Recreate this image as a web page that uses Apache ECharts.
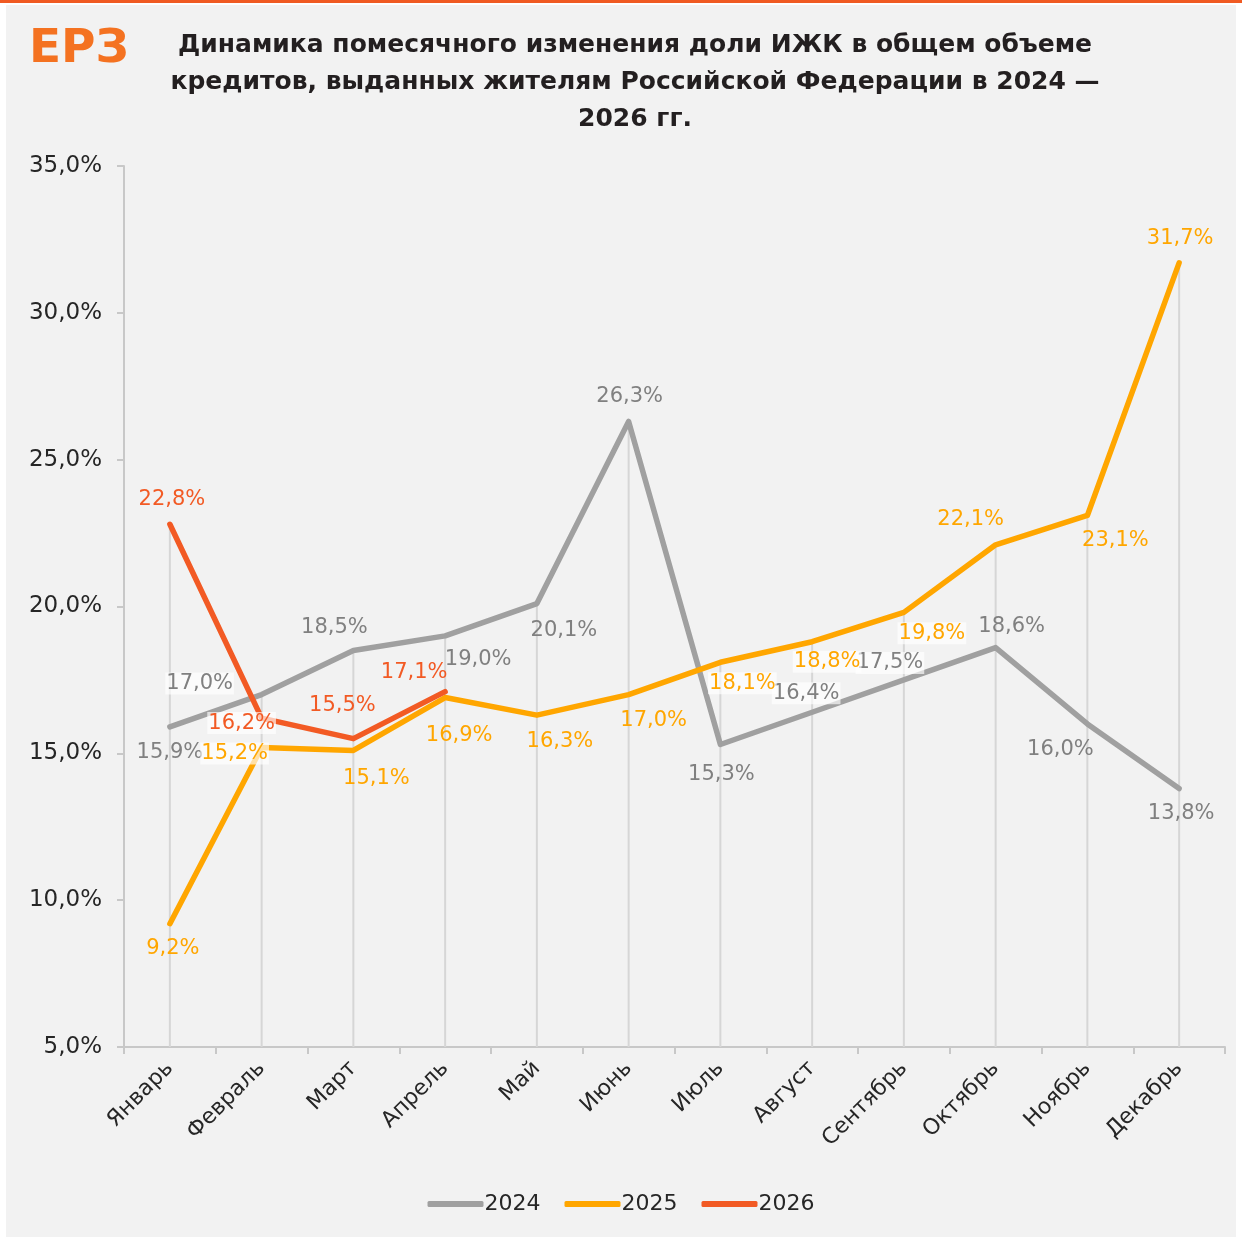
<!DOCTYPE html>
<html>
<head>
<meta charset="utf-8">
<script src="https://cdn.jsdelivr.net/npm/echarts@6/dist/echarts.min.js"></script>
<style>
html,body{margin:0;padding:0;background:#ffffff;}
#chart{width:1242px;height:1237px;}
</style>
</head>
<body>
<div id="chart"></div>
<script>
// ---- DATA ----
var categories = ['Январь','Февраль','Март','Апрель','Май','Июнь','Июль','Август','Сентябрь','Октябрь','Ноябрь','Декабрь'];
var values2024 = [15.9, 17.0, 18.5, 19.0, 20.1, 26.3, 15.3, 16.4, 17.5, 18.6, 16.0, 13.8];
var values2025 = [9.2, 15.2, 15.1, 16.9, 16.3, 17.0, 18.1, 18.8, 19.8, 22.1, 23.1, 31.7];
var values2026 = [22.8, 16.2, 15.5, 17.1];
var seriesNames = ['2024', '2025', '2026'];
var yTicks = [5, 10, 15, 20, 25, 30, 35];
var titleText = 'Динамика помесячного изменения доли ИЖК в общем объеме\nкредитов, выданных жителям Российской Федерации в 2024 —\n2026 гг.';

// ---- STYLE (label placement, not data) ----
var offs2024 = [[0,26],[-62,-11],[-19,-23],[33,24],[27,27],[1,-25],[1,30],[-6,-19],[-14,-17],[16,-21],[-27,26],[2,25]];
var offs2025 = [[3,25],[-27,6],[23,28],[14,38],[23,26],[25,26],[22,21],[15,20],[28,21],[-25,-25],[28,25],[1,-24]];
var offs2026 = [[2,-25],[-20,5],[-11,-33],[-31,-19]];
var bg2024 = [false,true,false,false,false,false,false,true,true,false,false,false];
var bg2025 = [false,true,false,false,false,false,true,true,true,false,false,false];
var bg2026 = [false,true,false,false];

var colors = ['#a0a0a0', '#ffa600', '#f25a24'];
var labelColors = ['#808080', '#ffa600', '#f25a24'];
var FONT = '"DejaVu Sans", "Noto Sans", sans-serif';

function fmt(v){ return v.toFixed(1).replace('.', ',') + '%'; }

function buildData(vals, offs, bgs){
  return vals.map(function(v, i){
    return {
      value: v,
      label: {
        offset: offs[i],
        backgroundColor: bgs[i] ? 'rgba(255,255,255,0.65)' : 'transparent',
        padding: bgs[i] ? [1,1,0,1] : 0
      }
    };
  });
}

function lineSeries(name, vals, offs, bgs, idx){
  return {
    name: name,
    type: 'line',
    data: buildData(vals, offs, bgs),
    symbol: 'circle',
    symbolSize: 2,
    showSymbol: true,
    z: 3 + idx,
    lineStyle: { color: colors[idx], width: 5.5, cap: 'round', join: 'round' },
    itemStyle: { color: colors[idx] },
    label: {
      show: true,
      position: 'inside',
      color: labelColors[idx],
      fontSize: 21,
      fontFamily: FONT,
      formatter: function(p){ return fmt(p.value); }
    },
    emphasis: { disabled: true },
    animation: false
  };
}

// drop lines: from highest value of each month down to axis minimum
var dropData = categories.map(function(c, i){
  var m = Math.max.apply(null, [values2024[i], values2025[i], values2026[i]].filter(function(v){ return v != null; }));
  return [i, m];
});

var chart = echarts.init(document.getElementById('chart'), null, {renderer: 'canvas'});
chart.setOption({
  backgroundColor: 'transparent',
  animation: false,
  title: {
    text: titleText,
    left: 630,
    top: 22,
    textAlign: 'center',
    textStyle: { fontSize: 25, fontWeight: 'bold', color: '#231f20', fontFamily: FONT, lineHeight: 37 }
  },
  graphic: [
    { type: 'rect', left: 6, top: 5, shape: { width: 1230, height: 1232 }, style: { fill: '#f2f2f2' }, z: -10, silent: true },
    { type: 'rect', left: 0, top: 0, shape: { width: 1242, height: 3 }, style: { fill: '#f05a22' }, z: -9, silent: true },
    { type: 'text', left: 29, top: 26, z: 10,
      style: { text: 'ЕРЗ', font: 'bold 47px ' + FONT, fill: '#f47221' } }
  ],
  legend: {
    data: seriesNames,
    bottom: 17,
    left: 'center',
    itemWidth: 56,
    itemHeight: 6,
    itemGap: 24,
    icon: 'roundRect',
    textStyle: { fontSize: 22, color: '#262626', fontFamily: FONT, padding: [0,0,0,-4] }
  },
  grid: { left: 124, right: 17, top: 166, bottom: 190, containLabel: false },
  xAxis: {
    type: 'category',
    data: categories,
    boundaryGap: true,
    axisLine: { lineStyle: { color: '#c8c8c8', width: 2 } },
    axisTick: { show: true, length: 7, lineStyle: { color: '#c8c8c8', width: 2 } },
    axisLabel: { rotate: 45, fontSize: 22, color: '#262626', fontFamily: FONT, margin: 18 },
    splitLine: { show: false }
  },
  yAxis: {
    type: 'value',
    min: yTicks[0],
    max: yTicks[yTicks.length - 1],
    interval: 5,
    axisLine: { show: true, lineStyle: { color: '#c8c8c8', width: 2 } },
    axisTick: { show: true, length: 7, lineStyle: { color: '#c8c8c8', width: 2 } },
    axisLabel: { fontSize: 23, color: '#262626', fontFamily: FONT, margin: 22,
      formatter: function(v){ return fmt(v); } },
    splitLine: { show: false }
  },
  series: [
    {
      name: 'drop',
      type: 'custom',
      z: 1,
      silent: true,
      data: dropData,
      renderItem: function(params, api){
        var top = api.coord([api.value(0), api.value(1)]);
        var bot = api.coord([api.value(0), yTicks[0]]);
        return { type: 'line', shape: { x1: top[0], y1: top[1], x2: bot[0], y2: bot[1] },
          style: { stroke: '#d6d6d6', lineWidth: 2 } };
      }
    },
    lineSeries(seriesNames[0], values2024, offs2024, bg2024, 0),
    lineSeries(seriesNames[1], values2025, offs2025, bg2025, 1),
    lineSeries(seriesNames[2], values2026, offs2026, bg2026, 2)
  ]
});
</script>
</body>
</html>
